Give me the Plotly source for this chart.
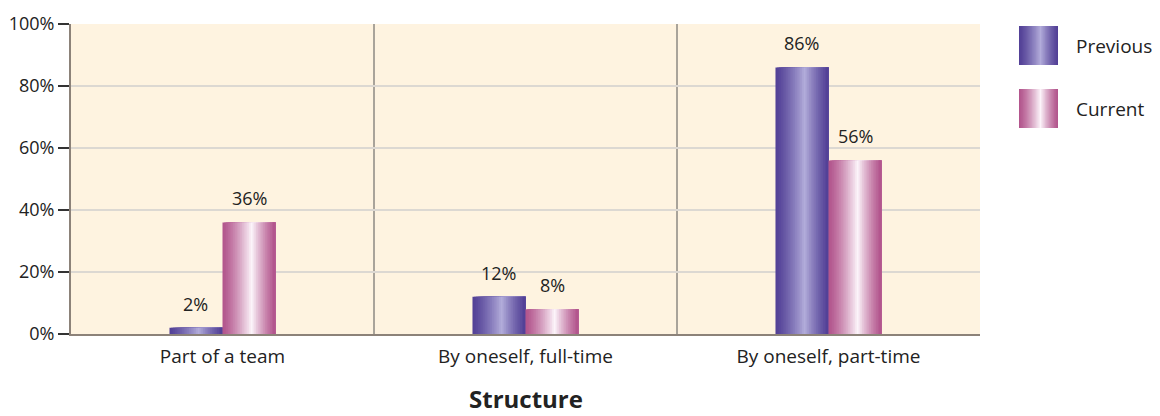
import plotly.graph_objects as go

categories = ["Part of a team", "By oneself, full-time", "By oneself, part-time"]
previous = [2, 12, 86]
current = [36, 8, 56]
series_names = ["Previous", "Current"]
y_ticks = [0, 20, 40, 60, 80, 100]
y_tick_labels = ["0%", "20%", "40%", "60%", "80%", "100%"]


def lerp(c1, c2, t):
    return "rgb(%d,%d,%d)" % tuple(round(a + (b - a) * t) for a, b in zip(c1, c2))


def gradient(edge, mid, n):
    # horizontal "cylinder" shading: dark edges, light band a bit right of centre
    out = []
    for k in range(n):
        p = (k + 0.5) / n
        peak = 0.55
        t = p / peak if p < peak else (1 - p) / (1 - peak)
        out.append(lerp(edge, mid, t ** 1.3))
    return out


styles = {
    "Previous": ((82, 64, 150), (178, 172, 218)),
    "Current": ((178, 84, 140), (252, 244, 250)),
}

bar_w = 0.175
n_slices = 30
step = bar_w / n_slices
x_idx = list(range(len(categories)))

fig = go.Figure()
for s, (name, vals) in enumerate(zip(series_names, [previous, current])):
    edge, mid = styles[name]
    cols = gradient(edge, mid, n_slices)
    start = -bar_w + s * bar_w
    # each slice runs to the bar's right edge, later slices painted on top -> no seams
    for k, c in enumerate(cols):
        fig.add_trace(go.Bar(
            x=x_idx, y=vals, width=bar_w - k * step,
            offset=start + k * step,
            marker=dict(color=c, line=dict(width=0)),
            showlegend=False, hoverinfo="skip"))
    for i, v in enumerate(vals):
        fig.add_annotation(x=i + start + bar_w / 2, y=v, text=f"{v}%",
                           showarrow=False, yanchor="bottom", yshift=10,
                           font=dict(size=18, color="#222"))
    # legend swatch
    sy1 = 0.9935 - s * 0.2032
    sy0 = sy1 - 0.1258
    sx0, sx1 = 1.0429, 1.0858
    sw = (sx1 - sx0) / n_slices
    for k, c in enumerate(cols):
        fig.add_shape(type="rect", xref="paper", yref="paper",
                      x0=sx0 + k * sw, x1=sx1,
                      y0=sy0, y1=sy1, fillcolor=c, line=dict(width=0), layer="above")
    fig.add_annotation(xref="paper", yref="paper", x=1.103, y=(sy0 + sy1) / 2, text=name,
                       showarrow=False, xanchor="left", yanchor="middle",
                       font=dict(size=19, color="#222"))

for b in [0.5, 1.5]:
    fig.add_shape(type="line", x0=b, x1=b, y0=0, y1=100, xref="x", yref="y",
                  line=dict(color="#555", width=1), layer="below")

fig.add_annotation(xref="paper", yref="paper", x=0.5, y=-0.208, text="<b>Structure</b>",
                   showarrow=False, yanchor="middle", borderpad=0,
                   font=dict(size=24, color="#222"))

# page body adds 8px offset, so the figure is 8px smaller each way
fig.update_layout(
    width=1152, height=408, barmode="overlay",
    margin=dict(l=63, r=180, t=16, b=82),
    paper_bgcolor="white", plot_bgcolor="#fef3e0",
    font=dict(family="Open Sans, Noto Sans, sans-serif", size=18, color="#222"),
    showlegend=False,
    xaxis=dict(tickmode="array", tickvals=x_idx, ticktext=categories, range=[-0.5, 2.5],
               showline=True, linecolor="#8c8279", linewidth=2, ticks="", showgrid=False,
               zeroline=False, ticklabelstandoff=4, automargin=False,
               tickfont=dict(size=19)),
    yaxis=dict(range=[0, 100], tickvals=y_ticks, ticktext=y_tick_labels,
               showline=True, linecolor="#8c8279", linewidth=2, ticks="outside",
               ticklen=11, tickcolor="#333", tickwidth=1.5, gridcolor="#dcd8d2",
               gridwidth=1.5, zeroline=False, automargin=False),
)

fig.write_html("out.html")
